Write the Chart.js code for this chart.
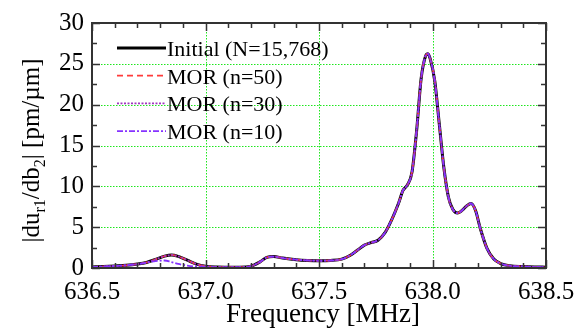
<!DOCTYPE html>
<html>
<head>
<meta charset="utf-8">
<script src="https://cdn.jsdelivr.net/npm/chart.js@4/dist/chart.umd.min.js"></script>
<style>
  html, body { margin: 0; padding: 0; background: #fff; }
  #c { display: block; }
</style>
</head>
<body>
<canvas id="c" width="587" height="336"></canvas>
<script>
// ---- data ----
const freqMHz = [636.50, 636.55, 636.60, 636.65, 636.70, 636.74, 636.78, 636.82, 636.85, 636.88,
                 636.92, 636.96, 637.00, 637.05, 637.10, 637.15, 637.20, 637.24, 637.27, 637.30,
                 637.34, 637.40, 637.45, 637.50, 637.55, 637.60, 637.64, 637.67, 637.70, 637.73,
                 637.76, 637.79, 637.82, 637.85, 637.87, 637.89, 637.91, 637.93, 637.95, 637.97,
                 637.98, 637.99, 638.01, 638.03, 638.05, 638.07, 638.09, 638.11, 638.13, 638.15,
                 638.17, 638.19, 638.21, 638.24, 638.27, 638.30, 638.34, 638.40, 638.45, 638.50];

const initialN15768 = [0.12, 0.18, 0.25, 0.33, 0.48, 0.68, 1.05, 1.45, 1.60, 1.42,
                       0.95, 0.48, 0.22, 0.12, 0.10, 0.10, 0.22, 0.75, 1.30, 1.40,
                       1.22, 1.02, 0.93, 0.89, 0.92, 1.08, 1.60, 2.20, 2.80, 3.10,
                       3.40, 4.30, 5.90, 7.90, 9.50, 10.20, 11.80, 16.80, 23.20, 26.00,
                       26.25, 25.60, 22.90, 17.60, 12.30, 8.70, 7.15, 6.72, 7.05, 7.60,
                       7.90, 7.00, 4.90, 2.40, 1.10, 0.55, 0.28, 0.18, 0.13, 0.10];

const mor50 = [0.12, 0.18, 0.25, 0.33, 0.48, 0.68, 1.05, 1.45, 1.60, 1.42,
               0.95, 0.48, 0.22, 0.12, 0.10, 0.10, 0.22, 0.75, 1.30, 1.40,
               1.22, 1.02, 0.93, 0.89, 0.92, 1.08, 1.60, 2.20, 2.80, 3.10,
               3.40, 4.30, 5.90, 7.90, 9.50, 10.20, 11.80, 16.80, 23.20, 26.00,
               26.25, 25.60, 22.90, 17.60, 12.30, 8.70, 7.15, 6.72, 7.05, 7.60,
               7.90, 7.00, 4.90, 2.40, 1.10, 0.55, 0.28, 0.18, 0.13, 0.10];

const mor30 = [0.12, 0.18, 0.25, 0.33, 0.48, 0.68, 1.05, 1.45, 1.60, 1.42,
               0.95, 0.48, 0.22, 0.12, 0.10, 0.10, 0.22, 0.75, 1.30, 1.40,
               1.22, 1.02, 0.93, 0.89, 0.92, 1.08, 1.60, 2.20, 2.80, 3.10,
               3.40, 4.30, 5.90, 7.90, 9.50, 10.20, 11.80, 16.80, 23.20, 26.00,
               26.25, 25.60, 22.90, 17.60, 12.30, 8.70, 7.15, 6.72, 7.05, 7.60,
               7.90, 7.00, 4.90, 2.40, 1.10, 0.55, 0.28, 0.18, 0.13, 0.10];

const mor10 = [0.12, 0.18, 0.25, 0.33, 0.48, 0.65, 0.85, 0.92, 0.72, 0.50,
               0.30, 0.17, 0.12, 0.10, 0.10, 0.10, 0.22, 0.75, 1.30, 1.40,
               1.22, 1.02, 0.93, 0.89, 0.92, 1.08, 1.60, 2.20, 2.80, 3.10,
               3.40, 4.30, 5.90, 7.90, 9.50, 10.20, 11.80, 16.80, 23.20, 26.00,
               26.25, 25.60, 22.90, 17.60, 12.30, 8.70, 7.15, 6.72, 7.05, 7.60,
               7.90, 7.00, 4.90, 2.40, 1.10, 0.55, 0.28, 0.18, 0.13, 0.10];

const seriesLabels = ['Initial (N=15,768)', 'MOR (n=50)', 'MOR (n=30)', 'MOR (n=10)'];
const xTickValues = [636.5, 637.0, 637.5, 638.0, 638.5];
const yTickValues = [0, 5, 10, 15, 20, 25, 30];
const xTitle = 'Frequency [MHz]';

// ---- chart ----
const SERIF = '"Liberation Serif", "DejaVu Serif", serif';
const toPts = ys => freqMHz.map((f, i) => ({ x: f, y: ys[i] }));

const styles = [
  { color: '#000000', width: 3,   dash: [] },
  { color: '#ff3b3b', width: 1.8, dash: [6, 4] },
  { color: '#a035c0', width: 1.8, dash: [2, 1.5] },
  { color: '#8633ff', width: 1.8, dash: [6, 2, 2, 2] }
];
const values = [initialN15768, mor50, mor30, mor10];

const datasets = values.map((v, i) => ({
  label: seriesLabels[i],
  data: toPts(v),
  borderColor: styles[i].color,
  borderWidth: styles[i].width,
  borderDash: styles[i].dash,
  pointRadius: 0,
  fill: false,
  cubicInterpolationMode: 'monotone',
  order: 4 - i
}));

const gridPlugin = {
  id: 'gridPlugin',
  beforeDatasetsDraw(chart) {
    const { ctx, chartArea: a, scales: { x, y } } = chart;
    ctx.save();
    ctx.strokeStyle = '#1ee61e';
    ctx.lineWidth = 1;
    ctx.setLineDash([1.5, 1.5]);
    xTickValues.slice(1, -1).forEach(v => {
      const px = Math.round(x.getPixelForValue(v)) + 0.5;
      ctx.beginPath(); ctx.moveTo(px, a.top); ctx.lineTo(px, a.bottom); ctx.stroke();
    });
    yTickValues.slice(1, -1).forEach(v => {
      const py = Math.round(y.getPixelForValue(v)) + 0.5;
      ctx.beginPath(); ctx.moveTo(a.left, py); ctx.lineTo(a.right, py); ctx.stroke();
    });
    ctx.restore();
  }
};

const framePlugin = {
  id: 'framePlugin',
  afterDatasetsDraw(chart) {
    const { ctx, chartArea: a, scales: { x, y } } = chart;
    ctx.save();
    ctx.setLineDash([]);
    ctx.strokeStyle = '#333333';
    ctx.lineWidth = 1.5;
    // inward ticks, all four sides
    for (let k = 0; k <= 20; k++) {
      const v = 636.5 + k * 0.1;
      const px = Math.round(x.getPixelForValue(v)) + 0.5;
      const len = (k % 5 === 0) ? 8 : 5;
      ctx.beginPath();
      ctx.moveTo(px, a.bottom); ctx.lineTo(px, a.bottom - len);
      ctx.moveTo(px, a.top); ctx.lineTo(px, a.top + len);
      ctx.stroke();
    }
    for (let k = 0; k <= 12; k++) {
      const v = k * 2.5;
      const py = Math.round(y.getPixelForValue(v)) + 0.5;
      const len = (k % 2 === 0) ? 8 : 5;
      ctx.beginPath();
      ctx.moveTo(a.left, py); ctx.lineTo(a.left + len, py);
      ctx.moveTo(a.right, py); ctx.lineTo(a.right - len, py);
      ctx.stroke();
    }
    ctx.lineWidth = 2;
    ctx.strokeRect(a.left, a.top, a.right - a.left, a.bottom - a.top);

    // legend
    const lx0 = a.left + 25, lx1 = a.left + 74;
    chart.data.datasets.forEach((ds, i) => {
      const ly = a.top + 25 + i * 27.7;
      ctx.beginPath();
      ctx.strokeStyle = ds.borderColor;
      ctx.lineWidth = ds.borderWidth;
      ctx.setLineDash(ds.borderDash);
      ctx.moveTo(lx0, ly); ctx.lineTo(lx1, ly);
      ctx.stroke();
      ctx.setLineDash([]);
      ctx.fillStyle = '#000';
      ctx.font = '22px ' + SERIF;
      ctx.textAlign = 'left';
      ctx.textBaseline = 'alphabetic';
      ctx.fillText(ds.label, lx1 + 1, ly + 8);
    });

    // x title
    ctx.font = '27px ' + SERIF;
    ctx.textAlign = 'center';
    ctx.textBaseline = 'alphabetic';
    ctx.fillText(xTitle, (a.left + a.right) / 2 + 4, 322);

    // y title with subscripts: |du_r1/db_2| [pm/µm]
    const parts = [
      { t: '|du', sub: false }, { t: 'r1', sub: true }, { t: '/db', sub: false },
      { t: '2', sub: true }, { t: '| [pm/\u00b5m]', sub: false }
    ];
    const mainF = '25px ' + SERIF, subF = '16px ' + SERIF;
    let total = 0;
    parts.forEach(p => { ctx.font = p.sub ? subF : mainF; p.w = ctx.measureText(p.t).width; total += p.w; });
    ctx.translate(39, (a.top + a.bottom) / 2 + 5);
    ctx.rotate(-Math.PI / 2);
    ctx.textAlign = 'left';
    let cx = -total / 2;
    parts.forEach(p => {
      ctx.font = p.sub ? subF : mainF;
      ctx.fillText(p.t, cx, p.sub ? 6 : 0);
      cx += p.w;
    });
    ctx.restore();
  }
};

new Chart(document.getElementById('c'), {
  type: 'line',
  data: { datasets },
  options: {
    responsive: false,
    animation: false,
    events: [],
    layout: { padding: { top: 19, right: 41, bottom: 0, left: 0 } },
    plugins: { legend: { display: false }, tooltip: { enabled: false }, title: { display: false } },
    scales: {
      x: {
        type: 'linear',
        min: 636.5, max: 638.5,
        afterBuildTicks: s => { s.ticks = xTickValues.map(v => ({ value: v })); },
        afterFit: s => { s.height = 68; },
        ticks: {
          callback: v => Number(v).toFixed(1),
          color: '#000',
          font: { family: SERIF, size: 25 },
          padding: 9,
          maxRotation: 0,
          autoSkip: false
        },
        grid: { display: false, drawTicks: false },
        border: { display: false }
      },
      y: {
        min: 0, max: 30,
        afterBuildTicks: s => { s.ticks = yTickValues.map(v => ({ value: v })); },
        afterFit: s => { s.width = 92; },
        ticks: {
          color: '#000',
          font: { family: SERIF, size: 25 },
          padding: 8,
          autoSkip: false
        },
        grid: { display: false, drawTicks: false },
        border: { display: false }
      }
    }
  },
  plugins: [gridPlugin, framePlugin]
});
</script>
</body>
</html>
